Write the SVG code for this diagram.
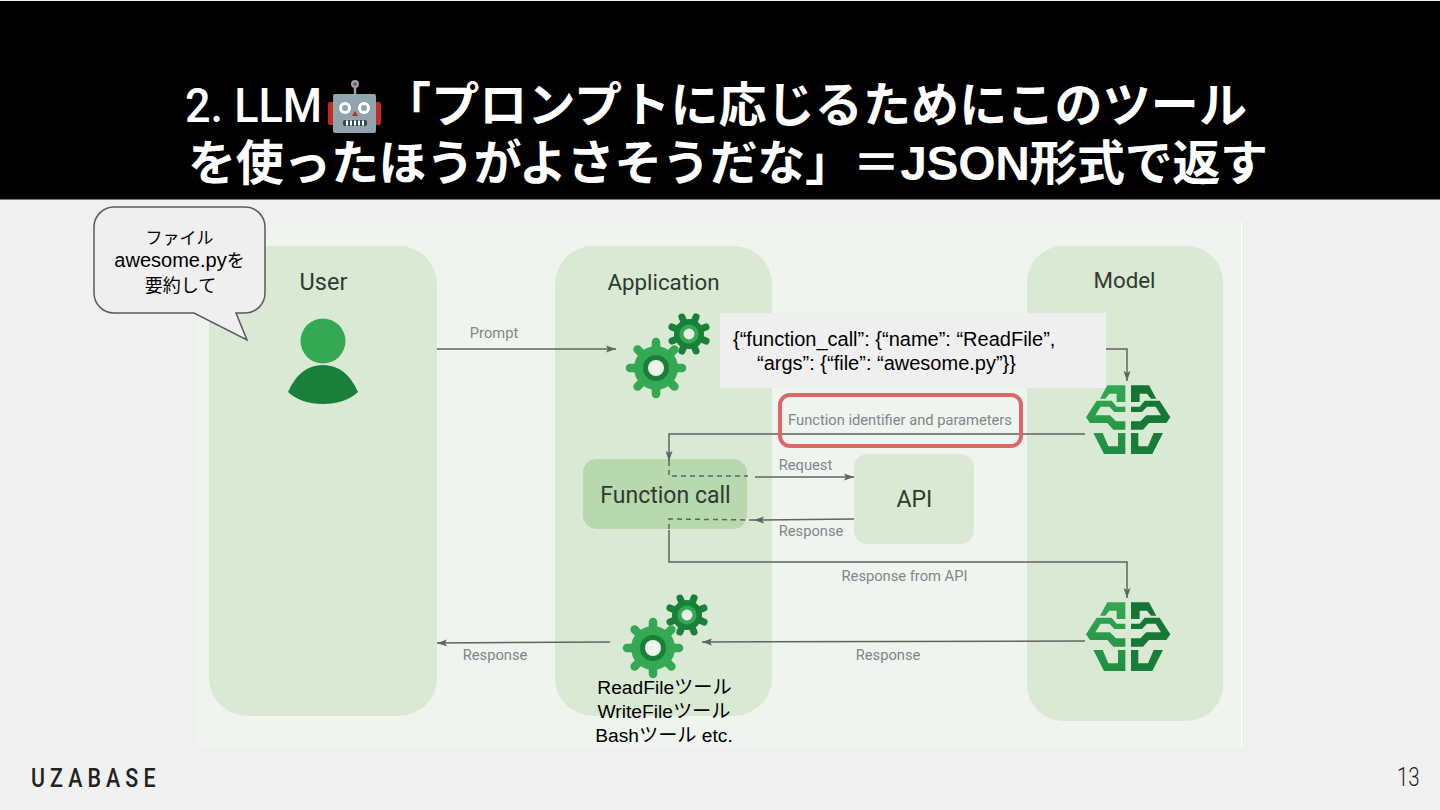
<svg xmlns="http://www.w3.org/2000/svg" width="1440" height="810" viewBox="0 0 1440 810">
<style>
.ttl{font-family:Roboto,"Noto Sans CJK JP",sans-serif;font-weight:700;font-size:48px;fill:#fff}
.blk{font-family:"Liberation Sans","Noto Sans CJK JP",sans-serif;font-size:19.200px;fill:#000;text-anchor:middle}
.jsn{font-family:"Liberation Sans",sans-serif;font-size:20px;fill:#000}
.big{font-family:Roboto,"Liberation Sans",sans-serif;font-size:22.300px;fill:#2f3a30;text-anchor:middle}
.lbl{font-family:Roboto,"Liberation Sans",sans-serif;font-size:14.700px;fill:#80868b;text-anchor:middle}
.pan{fill:#d9e9d4}
.ln{fill:none;stroke:#5f665f;stroke-width:1.500}
.ds{stroke-dasharray:5 4}
</style>
<defs>
<marker id="ah" viewBox="0 0 10 8" refX="10" refY="4" markerWidth="10" markerHeight="8" markerUnits="userSpaceOnUse" orient="auto"><path d="M0,0.500L10,4L0,7.500L2,4Z" fill="#5f665f"/></marker>
<linearGradient id="gl" gradientUnits="userSpaceOnUse" x1="0" y1="20" x2="0" y2="230"><stop offset="0" stop-color="#34a853"/><stop offset="1" stop-color="#1e8e3e"/></linearGradient>
<linearGradient id="gr" gradientUnits="userSpaceOnUse" x1="0" y1="20" x2="0" y2="230"><stop offset="0" stop-color="#137333"/><stop offset="1" stop-color="#188038"/></linearGradient>
<g id="gb"><path stroke="#34a853" stroke-width="8.500" stroke-linecap="round" d="M0,-26V26M-26,0H26M-18.400,-18.400L18.400,18.400M-18.400,18.400L18.400,-18.400"/><circle r="22" fill="#34a853"/><circle r="13" fill="#188038"/><circle r="8" fill="#eef5eb"/></g>
<g id="gs"><path stroke="#188038" stroke-width="7" stroke-linecap="round" d="M0,-18.500V18.500M-18.500,0H18.500M-13,-13L13,13M-13,13L13,-13"/><circle r="15" fill="#188038"/><circle r="9.500" fill="#34a853"/><circle r="5.500" fill="#e6f1e2"/></g>
<g id="brainhalf">
<path d="M60,62L82,22H136V72H110V47H88L76,62Z"/>
<path d="M18,118L50,68H95L110,86H136V102H103L88,86H62L46,112H90L108,130H136V155H100L82,135H30Z"/>
<path d="M40,165H68L85,205H114V165H136V228H72Z"/>
</g>
<g id="brain" transform="translate(1080,378) scale(.3333)">
<use href="#brainhalf" fill="url(#gl)"/>
<use href="#brainhalf" fill="url(#gr)" transform="translate(289,0) scale(-1,1)"/>
</g>
</defs>
<rect width="1440" height="810" fill="#f0f0f0"/>
<rect x="197" y="222" width="1044" height="525" fill="#eff5ee"/>
<path d="M1241.500,222V747" stroke="#fff" stroke-width="1"/>
<rect x="0" y="1" width="1440" height="198.500" fill="#000"/>

<g id="title">
<text class="ttl"><tspan x="185" y="122" textLength="137" lengthAdjust="spacingAndGlyphs" style="font-weight:500">2. LLM</tspan><tspan x="383" y="122" textLength="864">「プロンプトに応じるためにこのツール</tspan><tspan x="188" y="180" textLength="1080">を使ったほうがよさそうだな」＝<tspan style="font-family:'Liberation Sans',sans-serif">JSON</tspan>形式で返す</tspan></text>
</g>
<g id="robot">
<path d="M355,94V86" stroke="#90a4ae" stroke-width="2.500"/>
<circle cx="355" cy="84" r="4" fill="#90a4ae"/><circle cx="355" cy="84" r="1.600" fill="#c62828"/>
<rect x="328" y="102" width="53" height="23" rx="2" fill="#c62828"/>
<rect x="333" y="94" width="43" height="39" rx="2" fill="#90a4ae"/>
<circle cx="345" cy="108" r="6" fill="#fff"/><circle cx="345" cy="108" r="3" fill="#90a4ae"/>
<circle cx="364" cy="108" r="6" fill="#fff"/><circle cx="364" cy="108" r="3" fill="#90a4ae"/>
<path d="M355,111L352,116H358Z" fill="#c62828"/>
<rect x="343" y="120" width="24" height="6" rx="2" fill="#37474f"/>
<path d="M347,120.500V125.500M351,120.500V125.500M355,120.500V125.500M359,120.500V125.500M363,120.500V125.500" stroke="#fff" stroke-width="2"/>
</g>

<g id="user"><rect class="pan" x="209" y="246" width="228" height="470" rx="38"/>
<text class="big" x="323.500" y="290" style="font-size:23.500px">User</text>
<circle cx="323" cy="341" r="22.500" fill="#34a853"/>
<path d="M288,392Q300,365 323,365Q346,365 358,392Q345,404 323,404Q301,404 288,392Z" fill="#188038"/></g>
<g id="application"><rect class="pan" x="555" y="246" width="217" height="470" rx="38"/>
<text class="big" x="663.500" y="290">Application</text></g>
<g id="model"><rect class="pan" x="1027" y="246" width="196" height="475" rx="36"/>
<text class="big" x="1124.500" y="288">Model</text></g>

<g id="function-call"><rect x="583" y="459" width="164" height="70" rx="14" fill="#b8d8ae"/>
<text class="big" x="665.500" y="503" style="font-size:23px">Function call</text></g>
<g id="api"><rect x="854" y="454" width="120" height="90" rx="14" fill="#d9e9d4"/>
<text class="big" x="914.500" y="507" style="font-size:23px">API</text></g>

<g id="connectors">
<path class="ln" marker-end="url(#ah)" d="M437,349H616"/>
<path class="ln" marker-end="url(#ah)" d="M1106,349H1127V381"/>
<path class="ln" marker-end="url(#ah)" d="M1085,434H669V461"/>
<path class="ln ds" d="M669,461V476H748"/>
<path class="ln" marker-end="url(#ah)" d="M755,477H854"/>
<path class="ln" marker-end="url(#ah)" d="M854,519L754,520"/>
<path class="ln ds" d="M754,520L669,519V530"/>
<path class="ln" marker-end="url(#ah)" d="M669,530V562H1127V598"/>
<path class="ln" marker-end="url(#ah)" d="M1085,641L702,642"/>
<path class="ln" marker-end="url(#ah)" d="M610,642L437,643"/>
</g>

<g id="gears-top"><use href="#gs" transform="translate(689,334) rotate(22.500)"/><use href="#gb" x="656" y="368"/></g>
<g id="gears-bottom"><use href="#gs" transform="translate(687,615) rotate(22.500)"/><use href="#gb" x="653" y="648"/></g>
<g id="brain-top"><use href="#brain"/></g>
<g id="brain-bottom"><use href="#brain" y="217"/></g>

<g id="labels">
<text class="lbl" x="494" y="338">Prompt</text>
<text class="lbl" x="805.500" y="470">Request</text>
<text class="lbl" x="811" y="536">Response</text>
<text class="lbl" x="904.500" y="581">Response from API</text>
<text class="lbl" x="495" y="660">Response</text>
<text class="lbl" x="888" y="660">Response</text>
</g>

<g id="json"><rect x="720" y="313" width="386" height="75" fill="#efefef"/>
<text class="jsn" x="733" y="346">{“function_call”: {“name”: “ReadFile”,</text>
<text class="jsn" x="757" y="370">“args”: {“file”: “awesome.py”}}</text></g>

<g id="highlight"><rect x="780" y="395" width="241" height="51" rx="10" fill="none" stroke="#e06666" stroke-width="4"/>
<text class="lbl" x="900" y="425">Function identifier and parameters</text></g>

<g id="bubble"><path d="M114,207H245A20,20 0 0 1 265,227V293A20,20 0 0 1 245,313H236L247,340L194,313H114A20,20 0 0 1 94,293V227A20,20 0 0 1 114,207Z" fill="#efefef" stroke="#595959" stroke-width="1.500"/>
<text class="blk" x="179.500" y="244" style="font-size:17px">ファイル</text>
<text class="blk" x="179.500" y="267" style="font-size:20px">awesome.py<tspan style="font-size:18px">を</tspan></text>
<text class="blk" x="180.500" y="292" style="font-size:18px">要約して</text></g>

<g id="tools">
<text class="blk" x="664.500" y="694">ReadFileツール</text>
<text class="blk" x="664" y="718">WriteFileツール</text>
<text class="blk" x="664" y="742">Bashツール etc.</text></g>

<g id="footer">
<text transform="translate(31,787) scale(.8,1)" font-family="Roboto,'Liberation Sans',sans-serif" font-weight="500" font-size="26.700" letter-spacing="6.400" fill="#222">UZABASE</text>
<text transform="translate(1397,786) scale(.82,1)" font-family="Roboto,sans-serif" font-weight="300" font-size="25" fill="#222">13</text></g>
</svg>
